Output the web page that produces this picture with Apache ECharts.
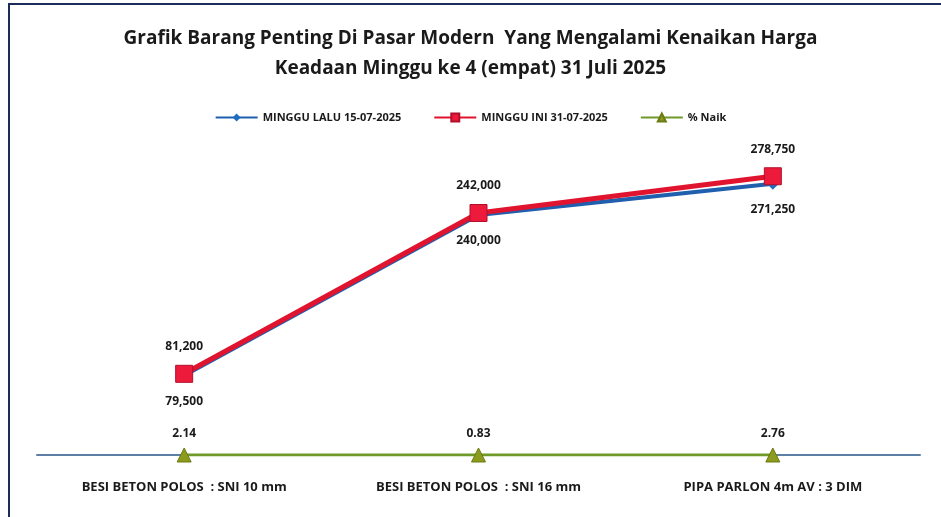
<!DOCTYPE html>
<html>
<head>
<meta charset="utf-8">
<script src="https://cdn.jsdelivr.net/npm/echarts@6/dist/echarts.min.js"></script>
<style>
html, body { margin: 0; padding: 0; background: #fff; }
#chart { width: 941px; height: 517px; }
</style>
</head>
<body>
<div id="chart"></div>
<script>
var FONT = '"Open Sans", sans-serif';

var categories = ['BESI BETON POLOS  : SNI 10 mm', 'BESI BETON POLOS  : SNI 16 mm', 'PIPA PARLON 4m AV : 3 DIM'];
var mingguLalu = [79500, 240000, 271250];
var mingguIni = [81200, 242000, 278750];
var persenNaik = [2.14, 0.83, 2.76];

function fmt(v) {
  return Number(v).toLocaleString('en-US');
}

var chart = echarts.init(document.getElementById('chart'));

var option = {
  backgroundColor: '#fff',
  animation: false,
  title: {
    text: 'Grafik Barang Penting Di Pasar Modern  Yang Mengalami Kenaikan Harga\nKeadaan Minggu ke 4 (empat) 31 Juli 2025',
    left: 'center',
    top: 19,
    textStyle: {
      fontFamily: FONT,
      fontSize: 19,
      fontWeight: 'bold',
      color: '#1a1a1a',
      lineHeight: 30
    }
  },
  legend: {
    top: 107,
    left: 'center',
    itemWidth: 42,
    itemHeight: 10,
    itemGap: 32,
    textStyle: {
      fontFamily: FONT,
      fontSize: 11,
      fontWeight: 'bold',
      color: '#1a1a1a'
    },
    data: ['MINGGU LALU 15-07-2025', 'MINGGU INI 31-07-2025', '% Naik']
  },
  grid: {
    left: 37,
    right: 21,
    top: 155,
    bottom: 62,
    containLabel: false
  },
  xAxis: {
    type: 'category',
    data: categories,
    boundaryGap: true,
    axisLine: { lineStyle: { color: '#5d7fa6', width: 2 } },
    axisTick: { show: false },
    axisLabel: {
      margin: 26,
      fontFamily: FONT,
      fontSize: 13,
      fontWeight: 'bold',
      color: '#1a1a1a'
    }
  },
  yAxis: {
    type: 'value',
    min: 0,
    max: 300000,
    show: false,
    splitLine: { show: false }
  },
  graphic: [{
    type: 'rect',
    shape: { x: 9, y: 4, width: 950, height: 530 },
    style: { fill: 'none', stroke: '#1c2b5a', lineWidth: 2 },
    silent: true
  }],
  series: [
    {
      name: '% Naik',
      type: 'line',
      data: persenNaik,
      symbol: 'triangle',
      symbolSize: 14,
      z: 3,
      itemStyle: { color: '#8c9a1e', borderColor: '#6b7a12', borderWidth: 1 },
      lineStyle: { color: '#6f9a2a', width: 3 },
      label: {
        show: true,
        position: 'top',
        distance: 8,
        fontFamily: FONT,
        fontSize: 12,
        fontWeight: 'bold',
        color: '#1a1a1a',
        formatter: function (p) { return p.value.toFixed(2); }
      }
    },
    {
      name: 'MINGGU LALU 15-07-2025',
      type: 'line',
      data: mingguLalu,
      symbol: 'diamond',
      symbolSize: 12,
      z: 4,
      itemStyle: { color: '#1f6ec0' },
      lineStyle: { color: '#1f5fae', width: 4 },
      label: {
        show: true,
        position: 'bottom',
        distance: 14,
        fontFamily: FONT,
        fontSize: 12,
        fontWeight: 'bold',
        color: '#1a1a1a',
        formatter: function (p) { return fmt(p.value); }
      }
    },
    {
      name: 'MINGGU INI 31-07-2025',
      type: 'line',
      data: mingguIni,
      symbol: 'rect',
      symbolSize: 17,
      z: 5,
      itemStyle: { color: '#ee1a3c', borderColor: '#b0102a', borderWidth: 1 },
      lineStyle: { color: '#e0142f', width: 5 },
      label: {
        show: true,
        position: 'top',
        distance: 12,
        fontFamily: FONT,
        fontSize: 12,
        fontWeight: 'bold',
        color: '#1a1a1a',
        formatter: function (p) { return fmt(p.value); }
      }
    }
  ]
};

chart.setOption(option);
</script>
</body>
</html>
